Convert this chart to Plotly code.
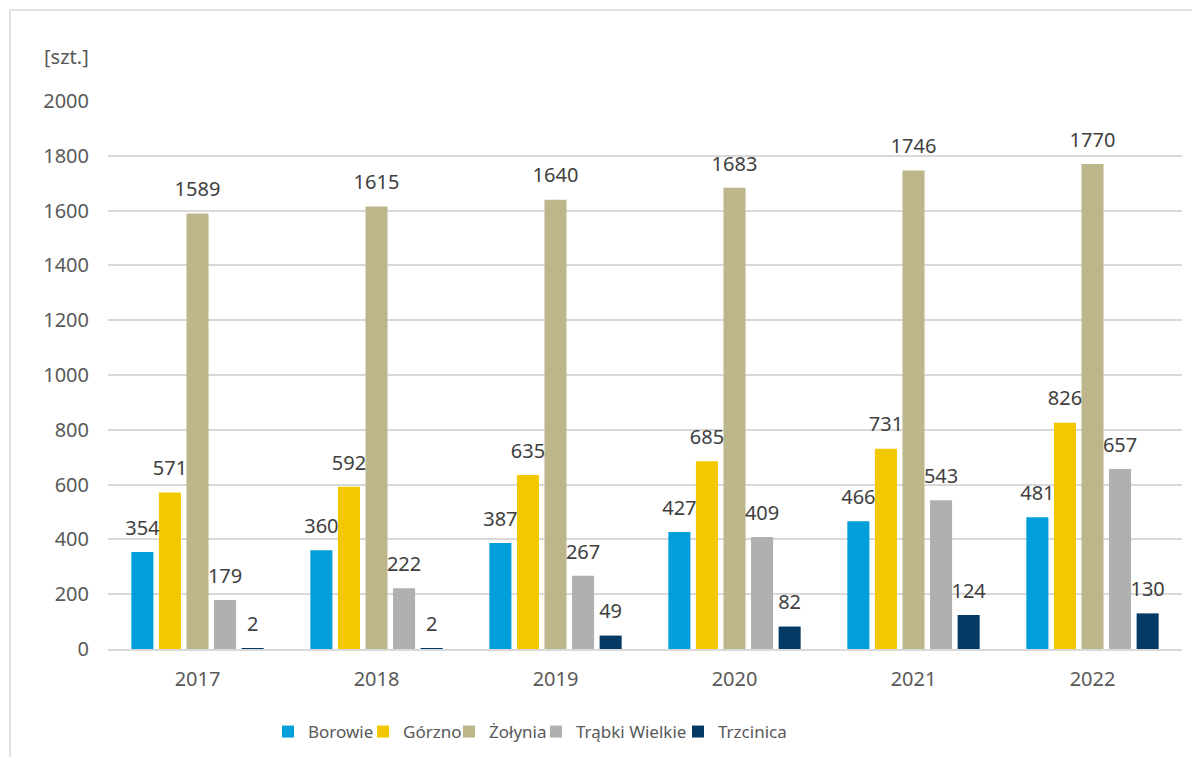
import plotly.graph_objects as go

years = ["2017", "2018", "2019", "2020", "2021", "2022"]
series_names = ["Borowie", "Górzno", "Żołynia", "Trąbki Wielkie", "Trzcinica"]
borowie = [354, 360, 387, 427, 466, 481]
gorzno = [571, 592, 635, 685, 731, 826]
zolynia = [1589, 1615, 1640, 1683, 1746, 1770]
trabki = [179, 222, 267, 409, 543, 657]
trzcinica = [2, 2, 49, 82, 124, 130]
colors = ["#009FDA", "#F2C800", "#BDB68A", "#B0B0B0", "#043A63"]
y_ticks = [0, 200, 400, 600, 800, 1000, 1200, 1400, 1600, 1800, 2000]

FONT = "Noto Sans"
OFF = 8  # page body margin
all_vals = [borowie, gorzno, zolynia, trabki, trzcinica]
legend_ids = ["legend", "legend2", "legend3", "legend4", "legend5"]
legend_px = [268, 363, 449, 536, 678]

fig = go.Figure()
for name, vals, col, lg in zip(series_names, all_vals, colors, legend_ids):
    fig.add_trace(go.Bar(
        x=years, y=vals, name=name, marker=dict(color=col, line=dict(width=0)),
        hoverinfo="skip", legend=lg,
    ))
for name, vals in zip(series_names, all_vals):
    fig.add_trace(go.Scatter(
        x=years, y=vals, name=name + " labels", mode="markers+text",
        text=[str(v) for v in vals], textposition="top center",
        marker=dict(size=18, opacity=0), showlegend=False, cliponaxis=False,
        textfont=dict(family=FONT, size=20, color="#404040"),
    ))

# target pixel geometry (reference image coords)
W, H = 1200 - 2 * OFF, 765 - 2 * OFF
PL, PR, PT, PB = 108, 1182, 101, 649
L, R, T, B = PL - OFF, W - (PR - OFF), PT - OFF, H - (PB - OFF)
pw, ph = W - L - R, H - T - B


def px(x):
    return (x - OFF - L) / pw


def py(y):
    return (H - B - (y - OFF)) / ph


def cx(x):
    return (x - OFF) / W


def cy(y):
    return 1 - (y - OFF) / H


legend_style = dict(orientation="h", xanchor="left", xref="container", yref="container",
                    y=cy(732), yanchor="middle",
                    font=dict(size=17, color="#595959"), itemwidth=30,
                    bgcolor="rgba(0,0,0,0)")
legends = {lg: dict(legend_style, x=cx(xp)) for lg, xp in zip(legend_ids, legend_px)}

fig.update_layout(
    width=W, height=H,
    margin=dict(l=L, r=R, t=T, b=B, pad=0, autoexpand=False),
    paper_bgcolor="white", plot_bgcolor="white",
    barmode="group", bargap=0.23, bargroupgap=0.2,
    scattermode="group", scattergap=0.23,
    font=dict(family=FONT, color="#595959"),
    xaxis=dict(showline=True, linecolor="#D9D9D9", linewidth=2, ticks="",
               tickfont=dict(size=20, color="#595959"), showgrid=False,
               ticklabelstandoff=11),
    yaxis=dict(range=[0, 2000], tickvals=y_ticks, showgrid=True, gridcolor="#D9D9D9",
               gridwidth=1.5, zeroline=False, ticks="", showline=False,
               tickfont=dict(size=20, color="#595959"), ticklabelstandoff=18),
    showlegend=True,
    **legends,
)
fig.add_annotation(text="[szt.]", xref="paper", yref="paper", x=px(66), y=py(57),
                   xanchor="center", yanchor="middle", showarrow=False,
                   font=dict(size=20, color="#595959", family=FONT))
fig.add_shape(type="rect", xref="paper", yref="paper", x0=px(10), x1=px(1230),
              y0=py(800), y1=py(10), line=dict(color="#D9D9D9", width=1.5), layer="below")
fig.write_html("out.html")
